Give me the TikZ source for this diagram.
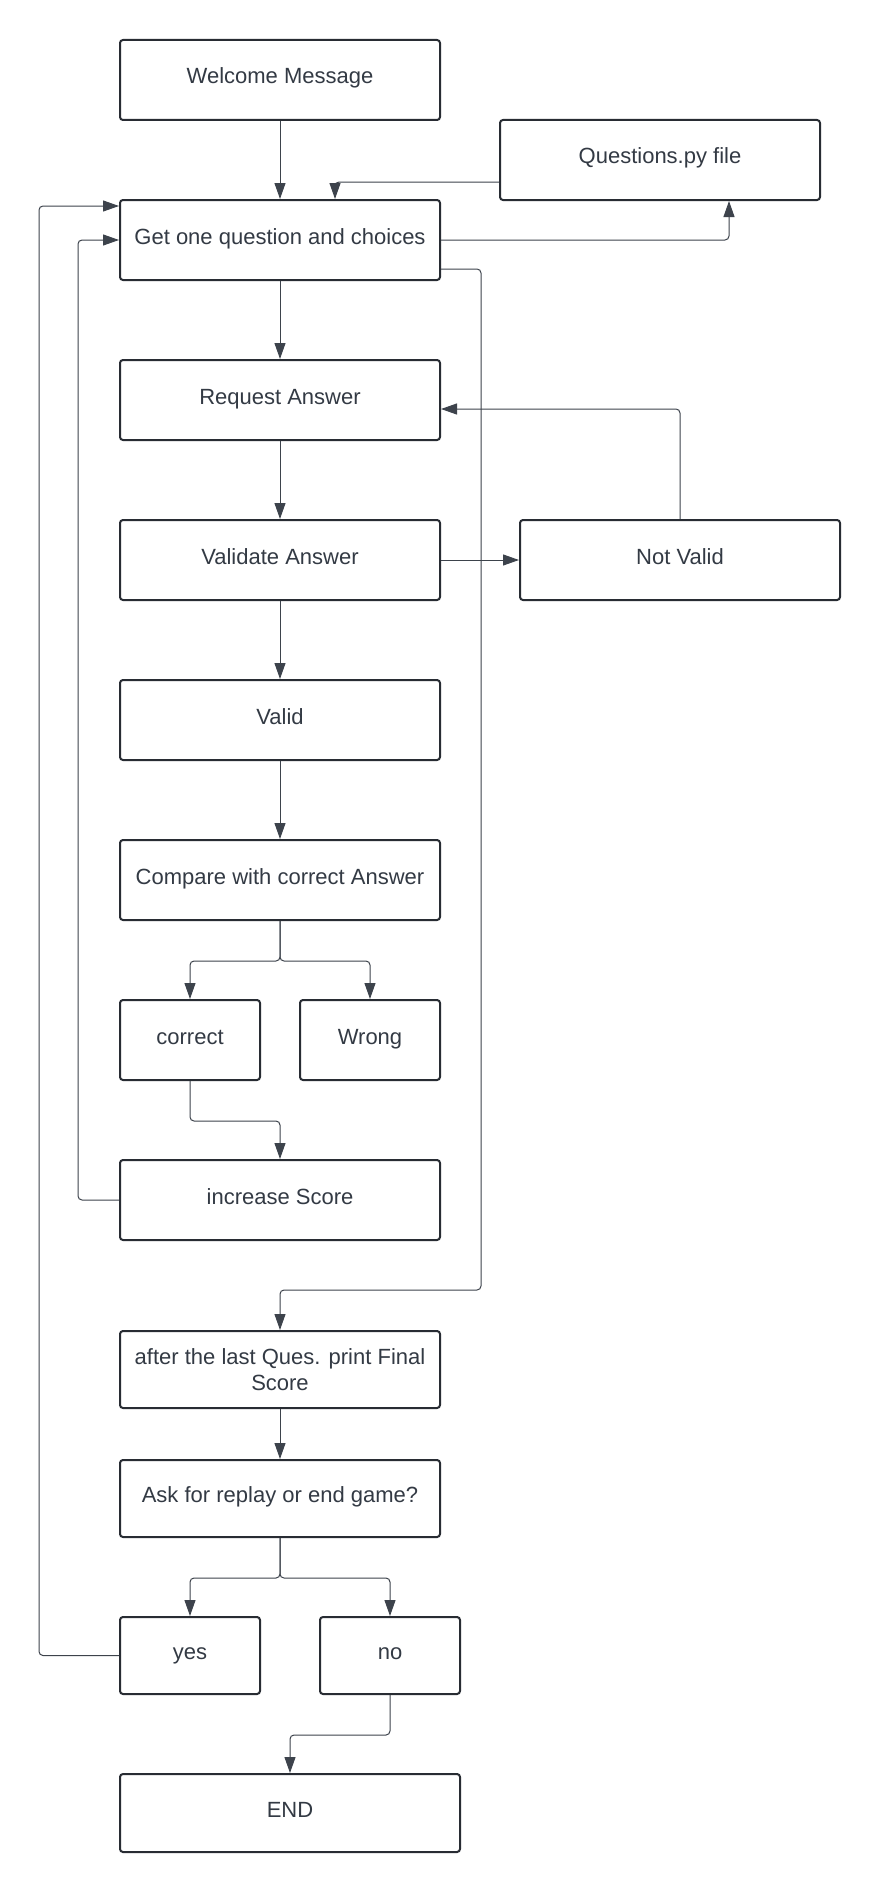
\documentclass[tikz,border=0pt]{standalone}
\usepackage{fontspec}
\setmainfont{Liberation Sans}
\usetikzlibrary{arrows.meta}
\definecolor{txt}{HTML}{333A44}
\definecolor{brd}{HTML}{282C33}
\definecolor{ln}{HTML}{3D434C}
\begin{document}
\begin{tikzpicture}[x=1pt,y=-1pt,
  boxbase/.style={draw=brd, line width=2pt, rounded corners=3pt, fill=white, text=txt,
    font=\fontsize{22}{26.5}\selectfont, inner sep=0pt},
  box/.style={boxbase, text height=16pt, text depth=8pt},
  conn/.style={draw=ln, line width=1pt, rounded corners=4pt, -{Triangle[length=16pt,width=11pt]}},
  plainln/.style={draw=ln, line width=1pt, rounded corners=4pt}]
\fill[white] (0,0) rectangle (880,1892);
\useasboundingbox (0,0) rectangle (880,1892);

\node[box, minimum width=320pt, minimum height=80pt] (welcome) at (280,80) {Welcome Message};
\node[box, minimum width=320pt, minimum height=80pt] (quest) at (660,160) {Questions.py file};
\node[box, minimum width=320pt, minimum height=80pt] (get) at (280,240) {Get one question and choices};
\node[box, minimum width=320pt, minimum height=80pt] (req) at (280,400) {Request Answer};
\node[box, minimum width=320pt, minimum height=80pt] (val) at (280,560) {Validate Answer};
\node[box, minimum width=320pt, minimum height=80pt] (nv) at (680,560) {Not Valid};
\node[box, minimum width=320pt, minimum height=80pt] (valid) at (280,720) {Valid};
\node[box, minimum width=320pt, minimum height=80pt] (cmp) at (280,880) {Compare with correct Answer};
\node[box, minimum width=140pt, minimum height=80pt] (cor) at (190,1040) {correct};
\node[box, minimum width=140pt, minimum height=80pt] (wrong) at (370,1040) {Wrong};
\node[box, minimum width=320pt, minimum height=80pt] (inc) at (280,1200) {increase Score};
\node[boxbase, align=center, minimum width=320pt, minimum height=77pt] (after) at (280,1369.5) {after the last Ques. print Final\\Score};
\node[box, minimum width=320pt, minimum height=77pt] (ask) at (280,1498.5) {Ask for replay or end game?};
\node[box, minimum width=140pt, minimum height=77pt] (yes) at (190,1655.5) {yes};
\node[box, minimum width=140pt, minimum height=77pt] (no) at (390,1655.5) {no};
\node[box, minimum width=340pt, minimum height=78pt] (end) at (290,1813) {END};

\draw[conn] (welcome.south) -- (get.north);
\draw[conn] ([yshift=-22pt]quest.west) -| ([xshift=55pt]get.north);
\draw[conn] (get.east) -| ([xshift=69pt]quest.south);
\draw[conn] ([yshift=-29pt]get.east) -| (481,1290) -| (after.north);
\draw[conn] (get.south) -- (req.north);
\draw[conn] (req.south) -- (val.north);
\draw[conn] (val.east) -- (nv.west);
\draw[conn] (nv.north) |- ([yshift=-9pt]req.east);
\draw[conn] (val.south) -- (valid.north);
\draw[conn] (valid.south) -- (cmp.north);
\draw[conn] (cmp.south) -- ++(0,40) -| (cor.north);
\draw[conn] (cmp.south) -- ++(0,40) -| (wrong.north);
\draw[conn] (cor.south) -- ++(0,40) -| (inc.north);
\draw[conn] (inc.west) -- ++(-41,0) |- (get.west);
\draw[conn] (after.south) -- (ask.north);
\draw[conn] (ask.south) -- ++(0,40) -| (yes.north);
\draw[conn] (ask.south) -- ++(0,40) -| (no.north);
\draw[conn] (yes.west) -- ++(-80,0) |- ([yshift=34pt]get.west);
\draw[conn] (no.south) -- ++(0,40) -| (end.north);
\end{tikzpicture}
\end{document}
